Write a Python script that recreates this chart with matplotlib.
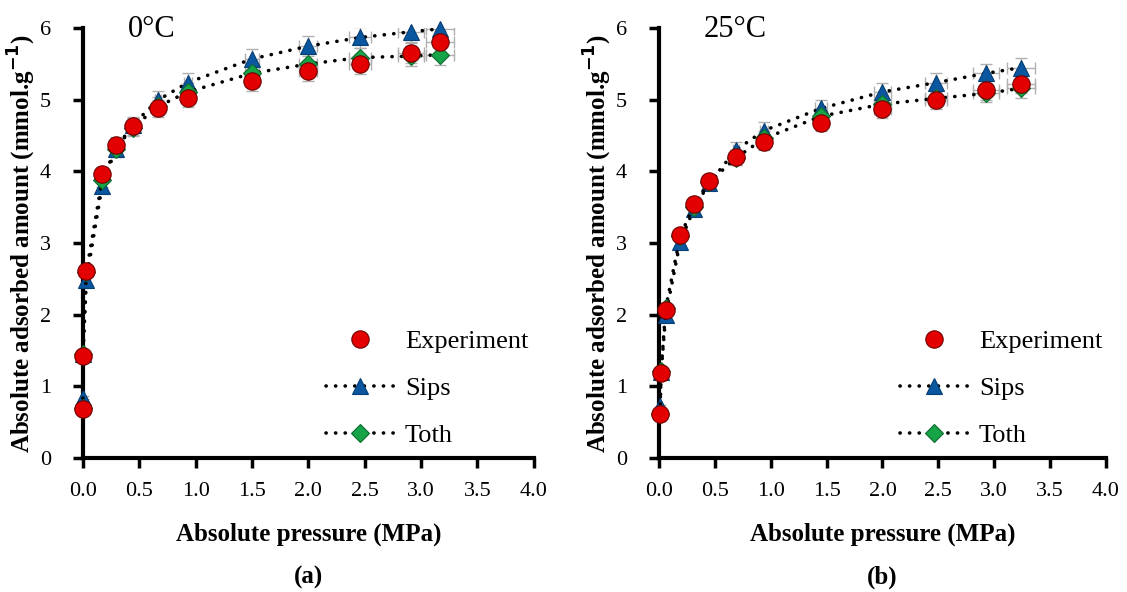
import matplotlib.pyplot as plt

# 0°C data (MPa, mmol/g)
p0 = [0.0, 0.0, 0.03, 0.17, 0.29, 0.44, 0.67, 0.93, 1.50, 2.00, 2.46, 2.91, 3.17]
exp0 = [0.69, 1.42, 2.61, 3.96, 4.37, 4.63, 4.88, 5.03, 5.26, 5.40, 5.50, 5.65, 5.81]
sips0 = [0.84, 1.45, 2.48, 3.80, 4.31, 4.65, 5.00, 5.24, 5.57, 5.75, 5.87, 5.95, 5.99]
toth0 = [0.70, 1.45, 2.60, 3.88, 4.32, 4.61, 4.91, 5.11, 5.37, 5.50, 5.59, 5.61, 5.63]

# 25°C data
p25 = [0.01, 0.02, 0.06, 0.19, 0.31, 0.45, 0.69, 0.94, 1.45, 2.00, 2.48, 2.93, 3.24]
exp25 = [0.62, 1.19, 2.07, 3.11, 3.55, 3.86, 4.20, 4.41, 4.68, 4.87, 5.00, 5.13, 5.22]
sips25 = [0.72, 1.20, 1.99, 3.02, 3.47, 3.84, 4.30, 4.57, 4.88, 5.11, 5.24, 5.37, 5.45]
toth25 = [0.62, 1.22, 2.09, 3.10, 3.51, 3.85, 4.19, 4.46, 4.77, 4.94, 5.02, 5.09, 5.16]

panels = [(p0, exp0, sips0, toth0, '0°C', '(a)'),
          (p25, exp25, sips25, toth25, '25°C', '(b)')]

red = '#E30000'
blue = '#0A57A0'
green = '#17A347'
font = 'Liberation Serif'
dots = (0, (0.05, 2.6))

fig = plt.figure(figsize=(11.27, 5.92), dpi=100)
rects = [[0.0736, 0.2264, 0.400, 0.726], [0.5847, 0.2264, 0.3966, 0.726]]

for rect, (p, e, s, t, title, lab) in zip(rects, panels):
    ax = fig.add_axes(rect)
    # error bars
    for yy in (s, t, e):
        ax.errorbar(p, yy, yerr=[v * 0.025 for v in yy], xerr=[v * 0.04 for v in p],
                    fmt='none', ecolor='#B0B0B0', elinewidth=1, capsize=4, zorder=1)
    ax.plot(p, s, linestyle=dots, color='black', lw=2.6, dash_capstyle='round',
            marker='^', ms=11, mfc=blue, mec='#073E73', mew=0.8, zorder=3,
            label='Sips', clip_on=False)
    ax.plot(p, t, linestyle=dots, color='black', lw=2.6, dash_capstyle='round',
            marker='D', ms=9, mfc=green, mec='#0C6B2C', mew=0.8, zorder=4,
            label='Toth', clip_on=False)
    ax.plot(p, e, linestyle='none', marker='o', ms=12.5, mfc=red, mec='#700000',
            mew=0.8, zorder=5, label='Experiment', clip_on=False)

    ax.set_xlim(0, 4.0)
    ax.set_ylim(0, 6)
    ax.set_xticks([0, 0.5, 1.0, 1.5, 2.0, 2.5, 3.0, 3.5, 4.0])
    ax.set_xticklabels(['%.1f' % v for v in ax.get_xticks()], fontfamily=font, fontsize=16)
    ax.set_yticks(range(7))
    ax.set_yticklabels([str(v) for v in range(7)], fontfamily=font, fontsize=16)
    for side in ('top', 'right'):
        ax.spines[side].set_visible(False)
    for side in ('left', 'bottom'):
        ax.spines[side].set_linewidth(3)
    ax.tick_params(direction='out', length=7, width=2.5)
    ax.tick_params(axis='x', pad=10)
    ax.tick_params(axis='y', pad=16)
    ax.set_xlabel('Absolute pressure (MPa)', fontfamily=font, fontsize=18,
                  fontweight='bold', labelpad=16)
    ax.set_ylabel('Absolute adsorbed amount (mmol.g$^{\\mathbf{-1}}$)', fontfamily=font,
                  fontsize=18, fontweight='bold', labelpad=1)
    ax.text(0.1, 1.03, title, transform=ax.transAxes, fontfamily=font, fontsize=22,
            va='top')
    ax.text(0.5, -0.277, lab, transform=ax.transAxes, fontfamily=font, fontsize=18,
            fontweight='bold', ha='center', va='center')

    h, l = ax.get_legend_handles_labels()
    order = [2, 0, 1]
    ax.legend([h[i] for i in order], [l[i] for i in order], loc='lower left',
              bbox_to_anchor=(0.515, 0.0), frameon=False, prop={'family': font, 'size': 19},
              handlelength=2.6, handletextpad=0.4, labelspacing=0.9, borderaxespad=0.0)

plt.savefig('out.png', dpi=100)
